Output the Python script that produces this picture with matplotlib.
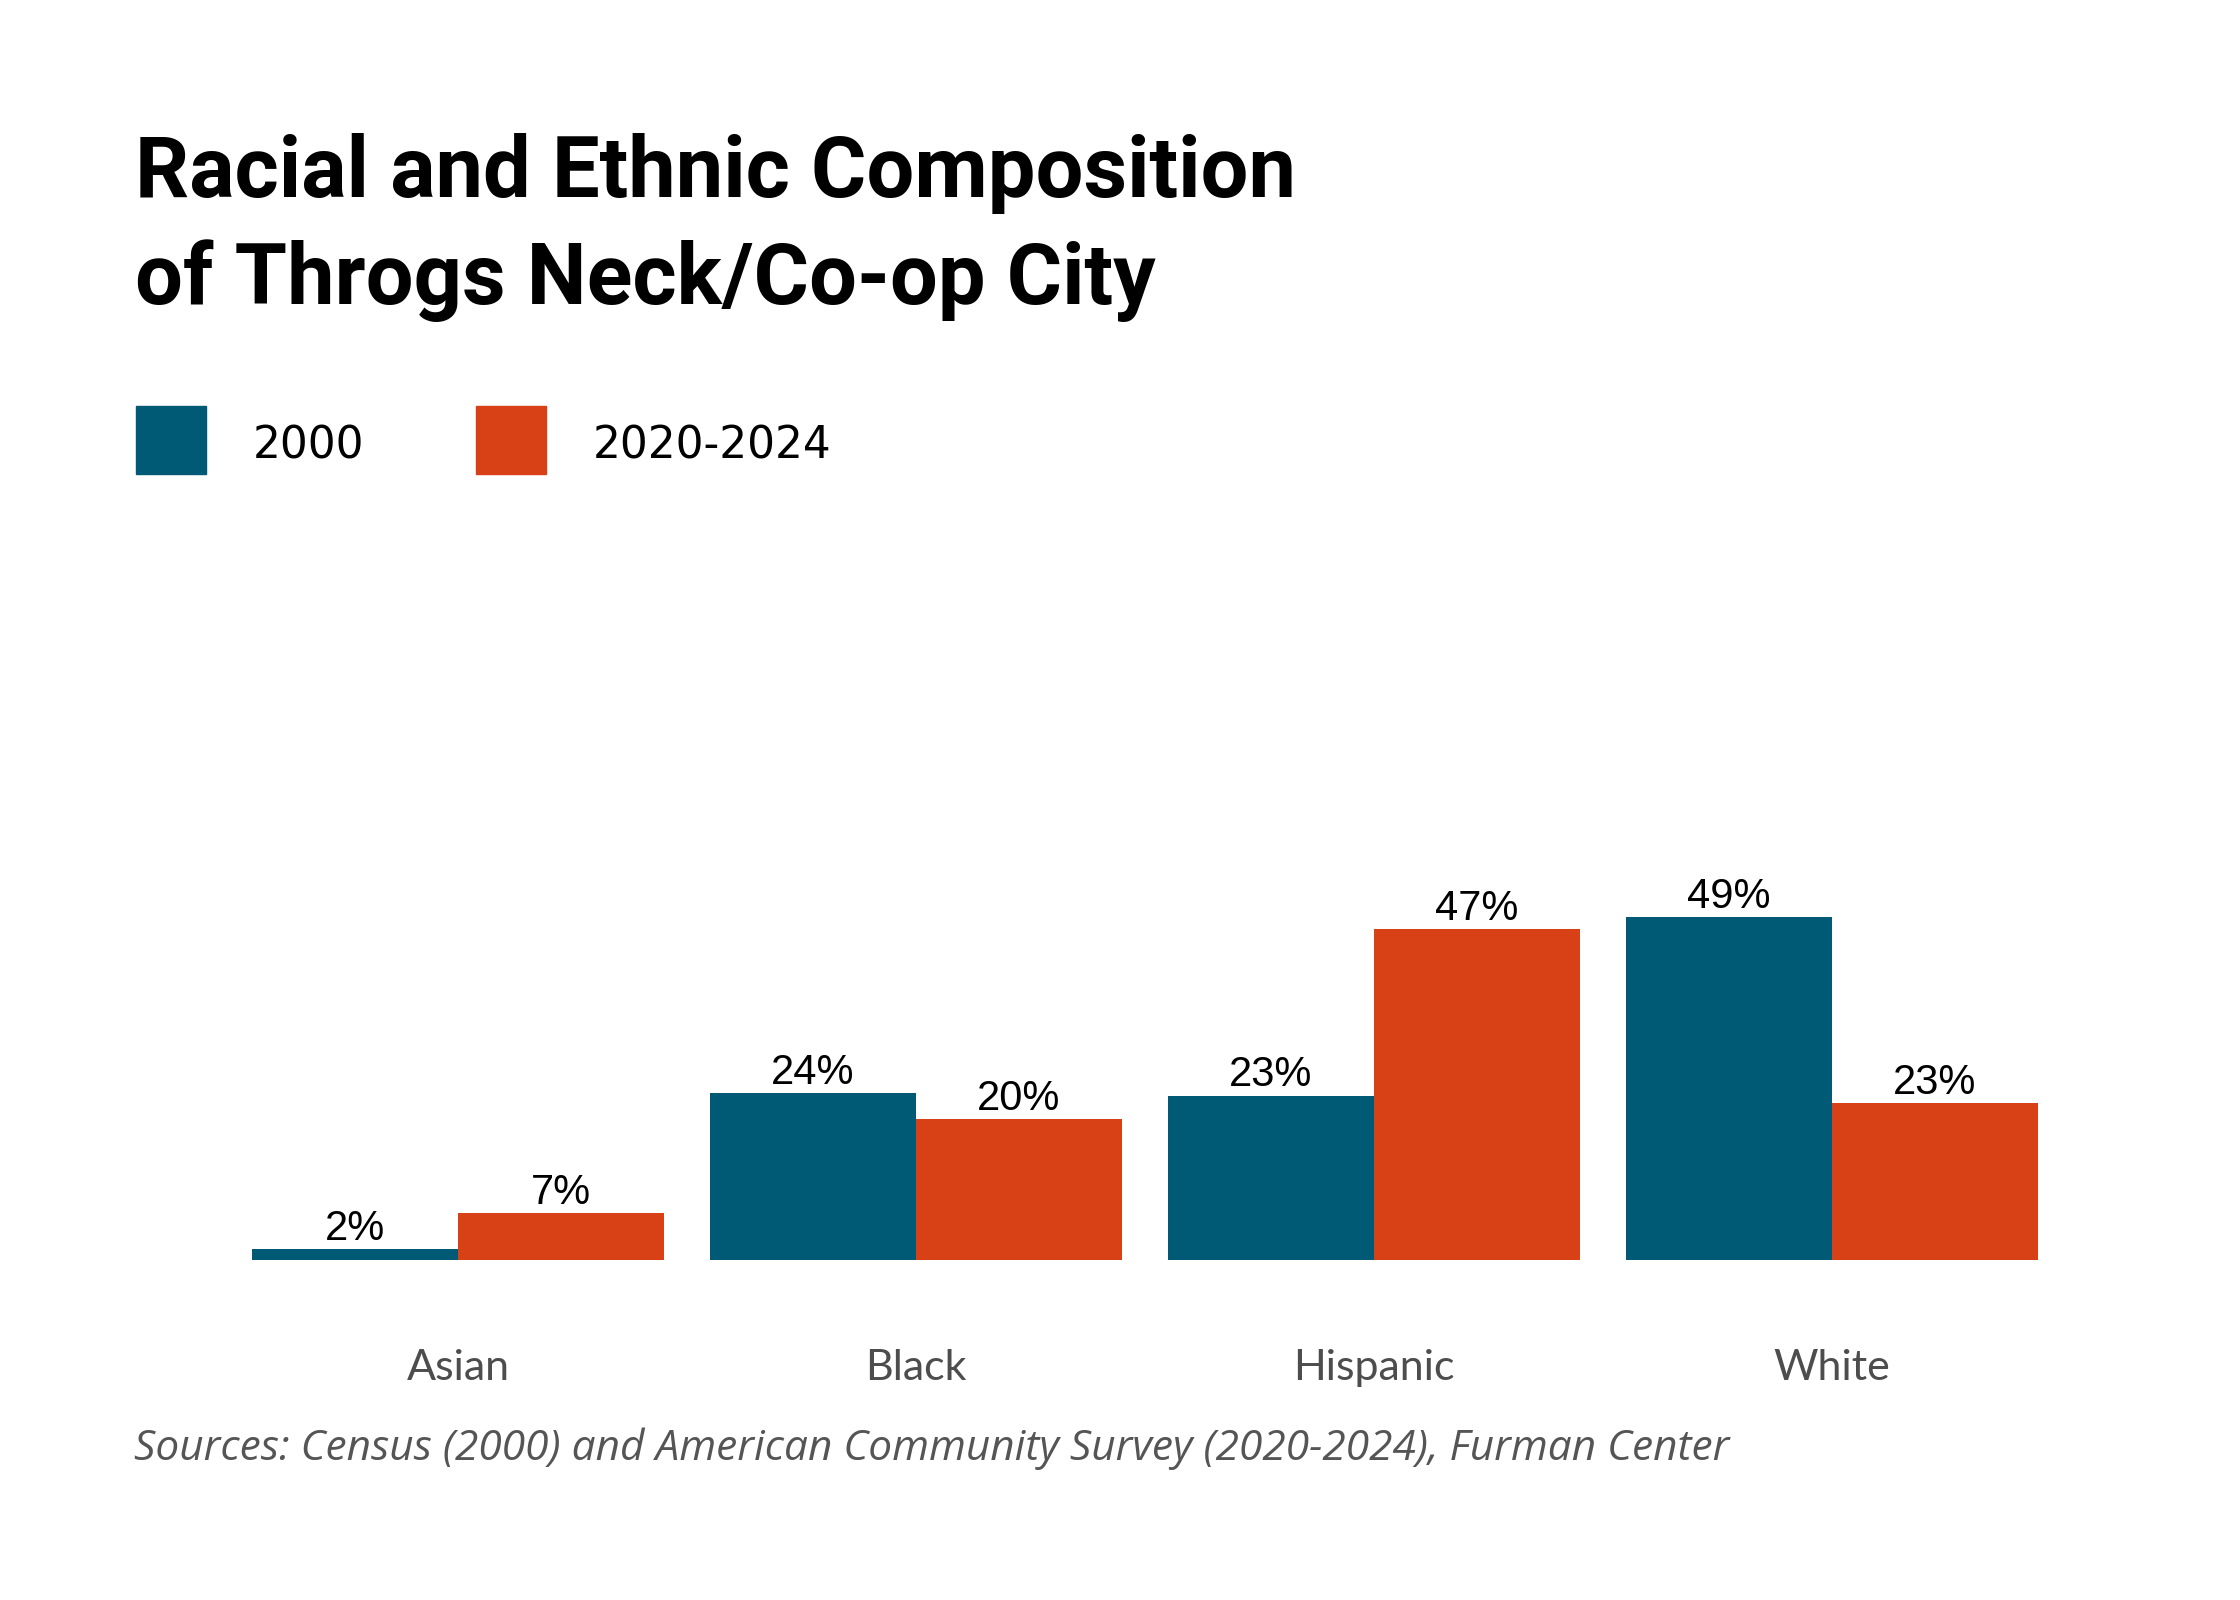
import matplotlib
matplotlib.use('Agg')
import matplotlib.pyplot as plt
from matplotlib.patches import Rectangle

# Datos
categories = ['Asian', 'Black', 'Hispanic', 'White']
values_2000 = [1.6, 23.9, 23.5, 49.0]
values_2024 = [6.7, 20.2, 47.3, 22.4]
labels_2000 = ['2%', '24%', '23%', '49%']
labels_2024 = ['7%', '20%', '47%', '23%']
series_names = ['2000', '2020-2024']

color_2000 = '#015a75'
color_2024 = '#d84115'

W, H = 2240, 1600
fig = plt.figure(figsize=(22.4, 16), dpi=100)

def fx(px):
    return px / W

def fy(py):
    return 1 - py / H

# Titulo
fig.text(fx(135), fy(197), 'Racial and Ethnic Composition', fontsize=61,
         fontweight='bold', family='Roboto', va='baseline', ha='left')
fig.text(fx(135), fy(304), 'of Throgs Neck/Co-op City', fontsize=61,
         fontweight='bold', family='Roboto', va='baseline', ha='left')

# Leyenda
for sx, tx, col, name in [(136, 253, color_2000, series_names[0]),
                          (476, 593, color_2024, series_names[1])]:
    fig.patches.append(Rectangle((fx(sx), fy(474)), fx(70), 68 / H,
                                 transform=fig.transFigure, color=col))
    fig.text(fx(tx), fy(446), name, fontsize=31.5, family='DejaVu Sans',
             va='center', ha='left')

# Grafico
ax = fig.add_axes([229 / W, 1 - 1260 / H, 1832 / W, 700 / H])
x = list(range(len(categories)))
bw = 0.45
b1 = ax.bar([i - bw / 2 for i in x], values_2000, width=bw, color=color_2000)
b2 = ax.bar([i + bw / 2 for i in x], values_2024, width=bw, color=color_2024)
ax.bar_label(b1, labels=labels_2000, padding=0, fontsize=30,
             family='Liberation Sans')
ax.bar_label(b2, labels=labels_2024, padding=0, fontsize=30,
             family='Liberation Sans')

ax.set_xlim(-0.5, 3.5)
ax.set_ylim(0, 100)
ax.set_yticks([])
ax.set_xticks(x)
ax.set_xticklabels(categories, fontsize=31, family='Lato', color='#4d4d4d')
for tl in ax.get_xticklabels():
    tl.set_va('center')
ax.tick_params(axis='x', length=0, pad=78)
for s in ax.spines.values():
    s.set_visible(False)

# Fuente
fig.text(fx(134), fy(1460),
         'Sources: Census (2000) and American Community Survey (2020-2024), Furman Center',
         fontsize=30.5, family='Open Sans', style='italic', color='#555555',
         va='baseline', ha='left')

plt.savefig('out.png', dpi=100)
plt.close()
